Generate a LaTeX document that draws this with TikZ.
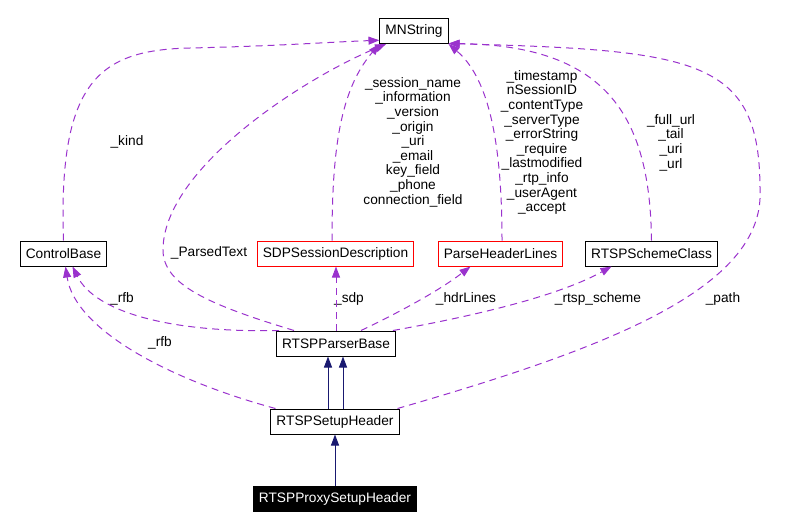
\documentclass[tikz,border=0pt]{standalone}
\usepackage{fontspec}
\setmainfont{Liberation Sans}
\usetikzlibrary{arrows.meta, calc}
\definecolor{usecol}{HTML}{9A32CD}
\definecolor{inhcol}{HTML}{191970}

\begin{document}
\begin{tikzpicture}[
  x=1pt, y=-1pt,
  every node/.style={font=\fontsize{13.7}{14.6}\selectfont},
  box/.style={draw, fill=white, line width=1pt, minimum height=25pt, inner xsep=5.5pt, inner ysep=0pt},
  redbox/.style={box, draw=red},
  usage/.style={draw=usecol, line width=1pt, dash pattern=on 7pt off 5pt, -{Triangle[length=11pt, width=8pt, fill=usecol]}},
  inherit/.style={draw=inhcol, line width=1pt, -{Triangle[length=11pt, width=8pt, fill=inhcol]}},
  lbl/.style={align=center, inner sep=0pt}
]
\useasboundingbox (0,0) rectangle (794,528);

\node[box] (mns) at (414,31) {MNString};
\node[box] (cb) at (63.5,253.5) {ControlBase};
\node[redbox] (sdp) at (335.5,253.5) {SDPSessionDescription};
\node[redbox] (phl) at (500.5,253.5) {ParseHeaderLines};
\node[box] (rsc) at (651.5,253.5) {RTSPSchemeClass};
\node[box] (rpb) at (336,343.5) {RTSPParserBase};
\node[box] (rsh) at (335,421.5) {RTSPSetupHeader};
\node[box, fill=black, text=white] (rpsh) at (335,498.5) {RTSPProxySetupHeader};

% member labels
\node[lbl] (lkind) at (127,142) {\_kind};
\node[lbl] (lparsed) at (209,253) {\_ParsedText};
\node[lbl] (lsess) at (413,142) {\_session\_name\\\_information\\\_version\\\_origin\\\_uri\\\_email\\key\_field\\\_phone\\connection\_field};
\node[lbl] (lstamp) at (542,142.5) {\_timestamp\\nSessionID\\\_contentType\\\_serverType\\\_errorString\\\_require\\\_lastmodified\\\_rtp\_info\\\_userAgent\\\_accept};
\node[lbl] (lurl) at (671,142.5) {\_full\_url\\\_tail\\\_uri\\\_url};
\node[lbl] (lrfba) at (122,299) {\_rfb};
\node[lbl] (lrfbb) at (160,343) {\_rfb};
\node[lbl] (lsdp) at (349,299) {\_sdp};
\node[lbl] (lhdr) at (466,299) {\_hdrLines};
\node[lbl] (lscheme) at (598,299) {\_rtsp\_scheme};
\node[lbl] (lpath) at (723,299) {\_path};

% usage relations
\draw[usage] (cb.north) .. controls (58,80) and (100,50) .. (190,48) .. controls (280,46) and (330,42) .. (mns.195);
\draw[usage] ($(rpb.north west)+(18,0)$) .. controls (210,305) and (163,285) .. (163,250) .. controls (163,170) and (300,80) .. (mns.205);
\draw[usage] ($(sdp.north)+(-3.5,0)$) .. controls (332,150) and (340,90) .. (mns.south west);
\draw[usage] ($(phl.north)+(1.5,0)$) .. controls (502,130) and (485,75) .. (mns.south east);
\draw[usage] (rsc.north) .. controls (650,120) and (610,45) .. (mns.-20);
\draw[usage] ($(rsh.north east)+(-2,0)$) .. controls (600,350) and (765,290) .. (760,190) .. controls (760,60) and (700,50) .. (mns.-20);
\draw[usage] ($(rpb.north west)+(3,0)$) .. controls (170,333) and (95,312) .. ($(cb.south)+(9,0)$);
\draw[usage] ($(rsh.north west)+(5,0)$) .. controls (170,380) and (75,330) .. ($(cb.south)+(2,0)$);
\draw[usage] (rpb.north) -- (rpb.north |- sdp.south);
\draw[usage] ($(rpb.north)+(25,0)$) .. controls (400,312) and (440,290) .. ($(phl.south)+(-30,0)$);
\draw[usage] ($(rpb.north east)+(-3,0)$) .. controls (480,315) and (560,295) .. ($(rsc.south)+(-40,0)$);

% inheritance
\draw[inherit] ($(rsh.north)+(-7,0)$) -- ($(rpb.south)+(-8,0)$);
\draw[inherit] ($(rsh.north)+(8,0)$) -- ($(rpb.south)+(7,0)$);
\draw[inherit] (rpsh.north) -- (rsh.south);

\end{tikzpicture}
\end{document}
